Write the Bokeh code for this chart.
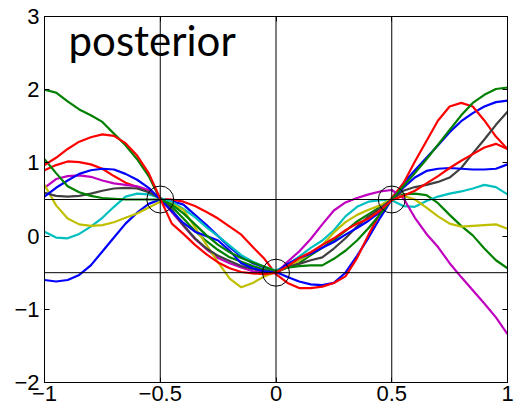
from bokeh.plotting import figure
from bokeh.models import Range1d, LinearAxis, FixedTicker, Span, Label
from bokeh.embed import file_html
from bokeh.resources import INLINE

# ---------------- data ----------------
x_vals = [-1.00, -0.95, -0.90, -0.85, -0.80, -0.75, -0.70, -0.65, -0.60, -0.55,
          -0.50, -0.45, -0.40, -0.35, -0.30, -0.25, -0.20, -0.15, -0.10, -0.05,
          0.00, 0.05, 0.10, 0.15, 0.20, 0.25, 0.30, 0.35, 0.40, 0.45,
          0.50, 0.55, 0.60, 0.65, 0.70, 0.75, 0.80, 0.85, 0.90, 0.95, 1.00]

blue_1 = [-0.60, -0.62, -0.60, -0.53, -0.40, -0.21, -0.02, 0.17, 0.32, 0.44, 0.50,
          0.48, 0.43, 0.29, 0.15, 0.00, -0.15, -0.28, -0.37, -0.43, -0.49,
          -0.56, -0.62, -0.66, -0.67, -0.64, -0.50, -0.27, -0.02, 0.25, 0.50,
          0.72, 0.90, 1.07, 1.24, 1.42, 1.57, 1.68, 1.77, 1.83, 1.85]
green_1 = [2.00, 1.96, 1.84, 1.73, 1.65, 1.56, 1.40, 1.24, 1.05, 0.82, 0.50,
           0.40, 0.24, 0.07, -0.07, -0.19, -0.29, -0.35, -0.41, -0.46, -0.50,
           -0.42, -0.37, -0.26, -0.16, -0.05, 0.07, 0.20, 0.30, 0.40, 0.50,
           0.57, 0.58, 0.56, 0.45, 0.29, 0.14, 0.01, -0.17, -0.33, -0.44]
red_1 = [0.90, 0.97, 1.02, 1.01, 0.98, 0.92, 0.82, 0.73, 0.67, 0.61, 0.51,
         0.50, 0.47, 0.41, 0.33, 0.24, 0.13, 0.02, -0.15, -0.31, -0.52,
         -0.64, -0.71, -0.71, -0.69, -0.64, -0.55, -0.30, 0.02, 0.32, 0.52,
         0.72, 1.02, 1.30, 1.58, 1.77, 1.82, 1.77, 1.58, 1.36, 1.19]
cyan_1 = [0.06, -0.02, -0.03, 0.03, 0.13, 0.25, 0.40, 0.54, 0.58, 0.57, 0.52,
          0.47, 0.37, 0.26, 0.12, 0.00, -0.13, -0.26, -0.35, -0.42, -0.47,
          -0.39, -0.28, -0.16, -0.06, 0.08, 0.27, 0.40, 0.47, 0.49, 0.49,
          0.41, 0.40, 0.48, 0.54, 0.58, 0.61, 0.65, 0.70, 0.67, 0.57]
magenta_1 = [0.66, 0.78, 0.82, 0.83, 0.81, 0.76, 0.72, 0.70, 0.68, 0.63, 0.52,
             0.33, 0.14, -0.04, -0.18, -0.30, -0.37, -0.43, -0.48, -0.50, -0.51,
             -0.35, -0.21, -0.04, 0.16, 0.35, 0.46, 0.52, 0.57, 0.61, 0.63,
             0.52, 0.25, 0.03, -0.15, -0.37, -0.56, -0.74, -0.92, -1.11, -1.34]
yellow_1 = [0.70, 0.42, 0.24, 0.16, 0.14, 0.15, 0.19, 0.25, 0.31, 0.39, 0.47,
            0.44, 0.36, 0.12, -0.12, -0.36, -0.58, -0.70, -0.64, -0.55, -0.49,
            -0.43, -0.33, -0.24, -0.12, 0.05, 0.19, 0.29, 0.36, 0.42, 0.51,
            0.55, 0.50, 0.39, 0.27, 0.17, 0.13, 0.14, 0.15, 0.16, 0.10]
gray_1 = [0.59, 0.55, 0.54, 0.55, 0.58, 0.62, 0.65, 0.66, 0.65, 0.60, 0.52,
          0.36, 0.15, -0.03, -0.17, -0.27, -0.34, -0.41, -0.45, -0.48, -0.50,
          -0.42, -0.38, -0.33, -0.29, -0.17, -0.03, 0.13, 0.27, 0.38, 0.50,
          0.62, 0.67, 0.70, 0.74, 0.80, 0.93, 1.13, 1.32, 1.52, 1.70]
blue_2 = [0.54, 0.66, 0.76, 0.85, 0.90, 0.92, 0.91, 0.85, 0.77, 0.66, 0.50,
          0.34, 0.18, 0.06, 0.00, -0.06, -0.20, -0.37, -0.44, -0.48, -0.50,
          -0.38, -0.30, -0.24, -0.16, -0.08, 0.02, 0.11, 0.21, 0.33, 0.50,
          0.66, 0.80, 0.89, 0.92, 0.93, 0.92, 0.91, 0.91, 0.92, 0.98]
green_2 = [1.05, 0.86, 0.68, 0.60, 0.55, 0.52, 0.51, 0.50, 0.50, 0.50, 0.50,
           0.43, 0.31, 0.16, 0.01, -0.12, -0.22, -0.30, -0.36, -0.42, -0.48,
           -0.43, -0.41, -0.40, -0.40, -0.31, -0.20, -0.06, 0.11, 0.30, 0.50,
           0.68, 0.86, 1.05, 1.25, 1.45, 1.65, 1.82, 1.93, 2.01, 2.03]
red_2 = [0.97, 1.07, 1.19, 1.29, 1.35, 1.39, 1.37, 1.27, 1.10, 0.86, 0.51,
         0.17, 0.03, -0.12, -0.25, -0.36, -0.44, -0.49, -0.51, -0.52, -0.50,
         -0.41, -0.30, -0.22, -0.12, -0.03, 0.08, 0.17, 0.24, 0.35, 0.49,
         0.55, 0.62, 0.72, 0.82, 0.93, 1.03, 1.12, 1.21, 1.26, 1.19]

obs_x = [-0.5, 0.0, 0.5]
obs_y = [0.5, -0.5, 0.5]
v_lines = [-0.5, 0.0, 0.5]
h_lines = [0.5, -0.5]

x_ticks = [-1, -0.5, 0, 0.5, 1]
x_tick_labels = ["\u22121", "\u22120.5", "0", "0.5", "1"]
y_ticks = [-2, -1, 0, 1, 2, 3]
y_tick_labels = ["\u22122", "\u22121", "0", "1", "2", "3"]

title_text = "posterior"

series = [
    (blue_1, "#0000ff"), (green_1, "#008000"), (red_1, "#ff0000"),
    (cyan_1, "#00bfbf"), (magenta_1, "#bf00bf"), (yellow_1, "#bfbf00"),
    (gray_1, "#404040"), (blue_2, "#0000ff"), (green_2, "#008000"),
    (red_2, "#ff0000"),
]

# ---------------- figure ----------------
p = figure(width=514, height=408, output_backend="svg", toolbar_location=None,
           x_range=Range1d(-1, 1), y_range=Range1d(-2, 3),
           min_border_left=44, min_border_right=7, min_border_top=16,
           min_border_bottom=26)
p.grid.visible = False
p.outline_line_color = "black"
p.outline_line_width = 1
p.background_fill_color = "white"
p.border_fill_color = "white"

font = "Liberation Sans"

def style_axis(ax, ticks, labels, show_labels=True):
    ax.ticker = FixedTicker(ticks=ticks)
    ax.major_tick_in = 5
    ax.major_tick_out = 0
    ax.minor_tick_in = 0
    ax.minor_tick_out = 0
    ax.axis_line_color = "black"
    ax.major_tick_line_color = "black"
    if show_labels:
        ax.major_label_overrides = {t: l for t, l in zip(ticks, labels)}
        ax.major_label_text_font = font
        ax.major_label_text_font_size = "22px"
        ax.major_label_text_color = "black"
    else:
        ax.major_label_overrides = {t: "" for t in ticks}
        ax.major_label_text_font_size = "0px"
        ax.major_label_standoff = 0

style_axis(p.xaxis[0], x_ticks, x_tick_labels)
style_axis(p.yaxis[0], y_ticks, y_tick_labels)
p.xaxis[0].major_label_standoff = 3
p.yaxis[0].major_label_standoff = 5

top_ax = LinearAxis()
style_axis(top_ax, x_ticks, x_tick_labels, show_labels=False)
p.add_layout(top_ax, "above")
right_ax = LinearAxis()
style_axis(right_ax, y_ticks, y_tick_labels, show_labels=False)
p.add_layout(right_ax, "right")

for loc in v_lines:
    p.add_layout(Span(location=loc, dimension="height", line_color="black", line_width=1))
for loc in h_lines:
    p.add_layout(Span(location=loc, dimension="width", line_color="black", line_width=1))

for ys, col in series:
    p.line(x_vals, ys, line_color=col, line_width=2.2)

p.scatter(obs_x, obs_y, size=27, marker="circle", fill_alpha=0,
          line_color="black", line_width=1)

p.add_layout(Label(x=-0.896, y=2.68, text=title_text, text_font="Lato",
                   text_font_size="42px", text_baseline="alphabetic",
                   text_color="black"))

open("out.html", "w").write(file_html(p, INLINE))
